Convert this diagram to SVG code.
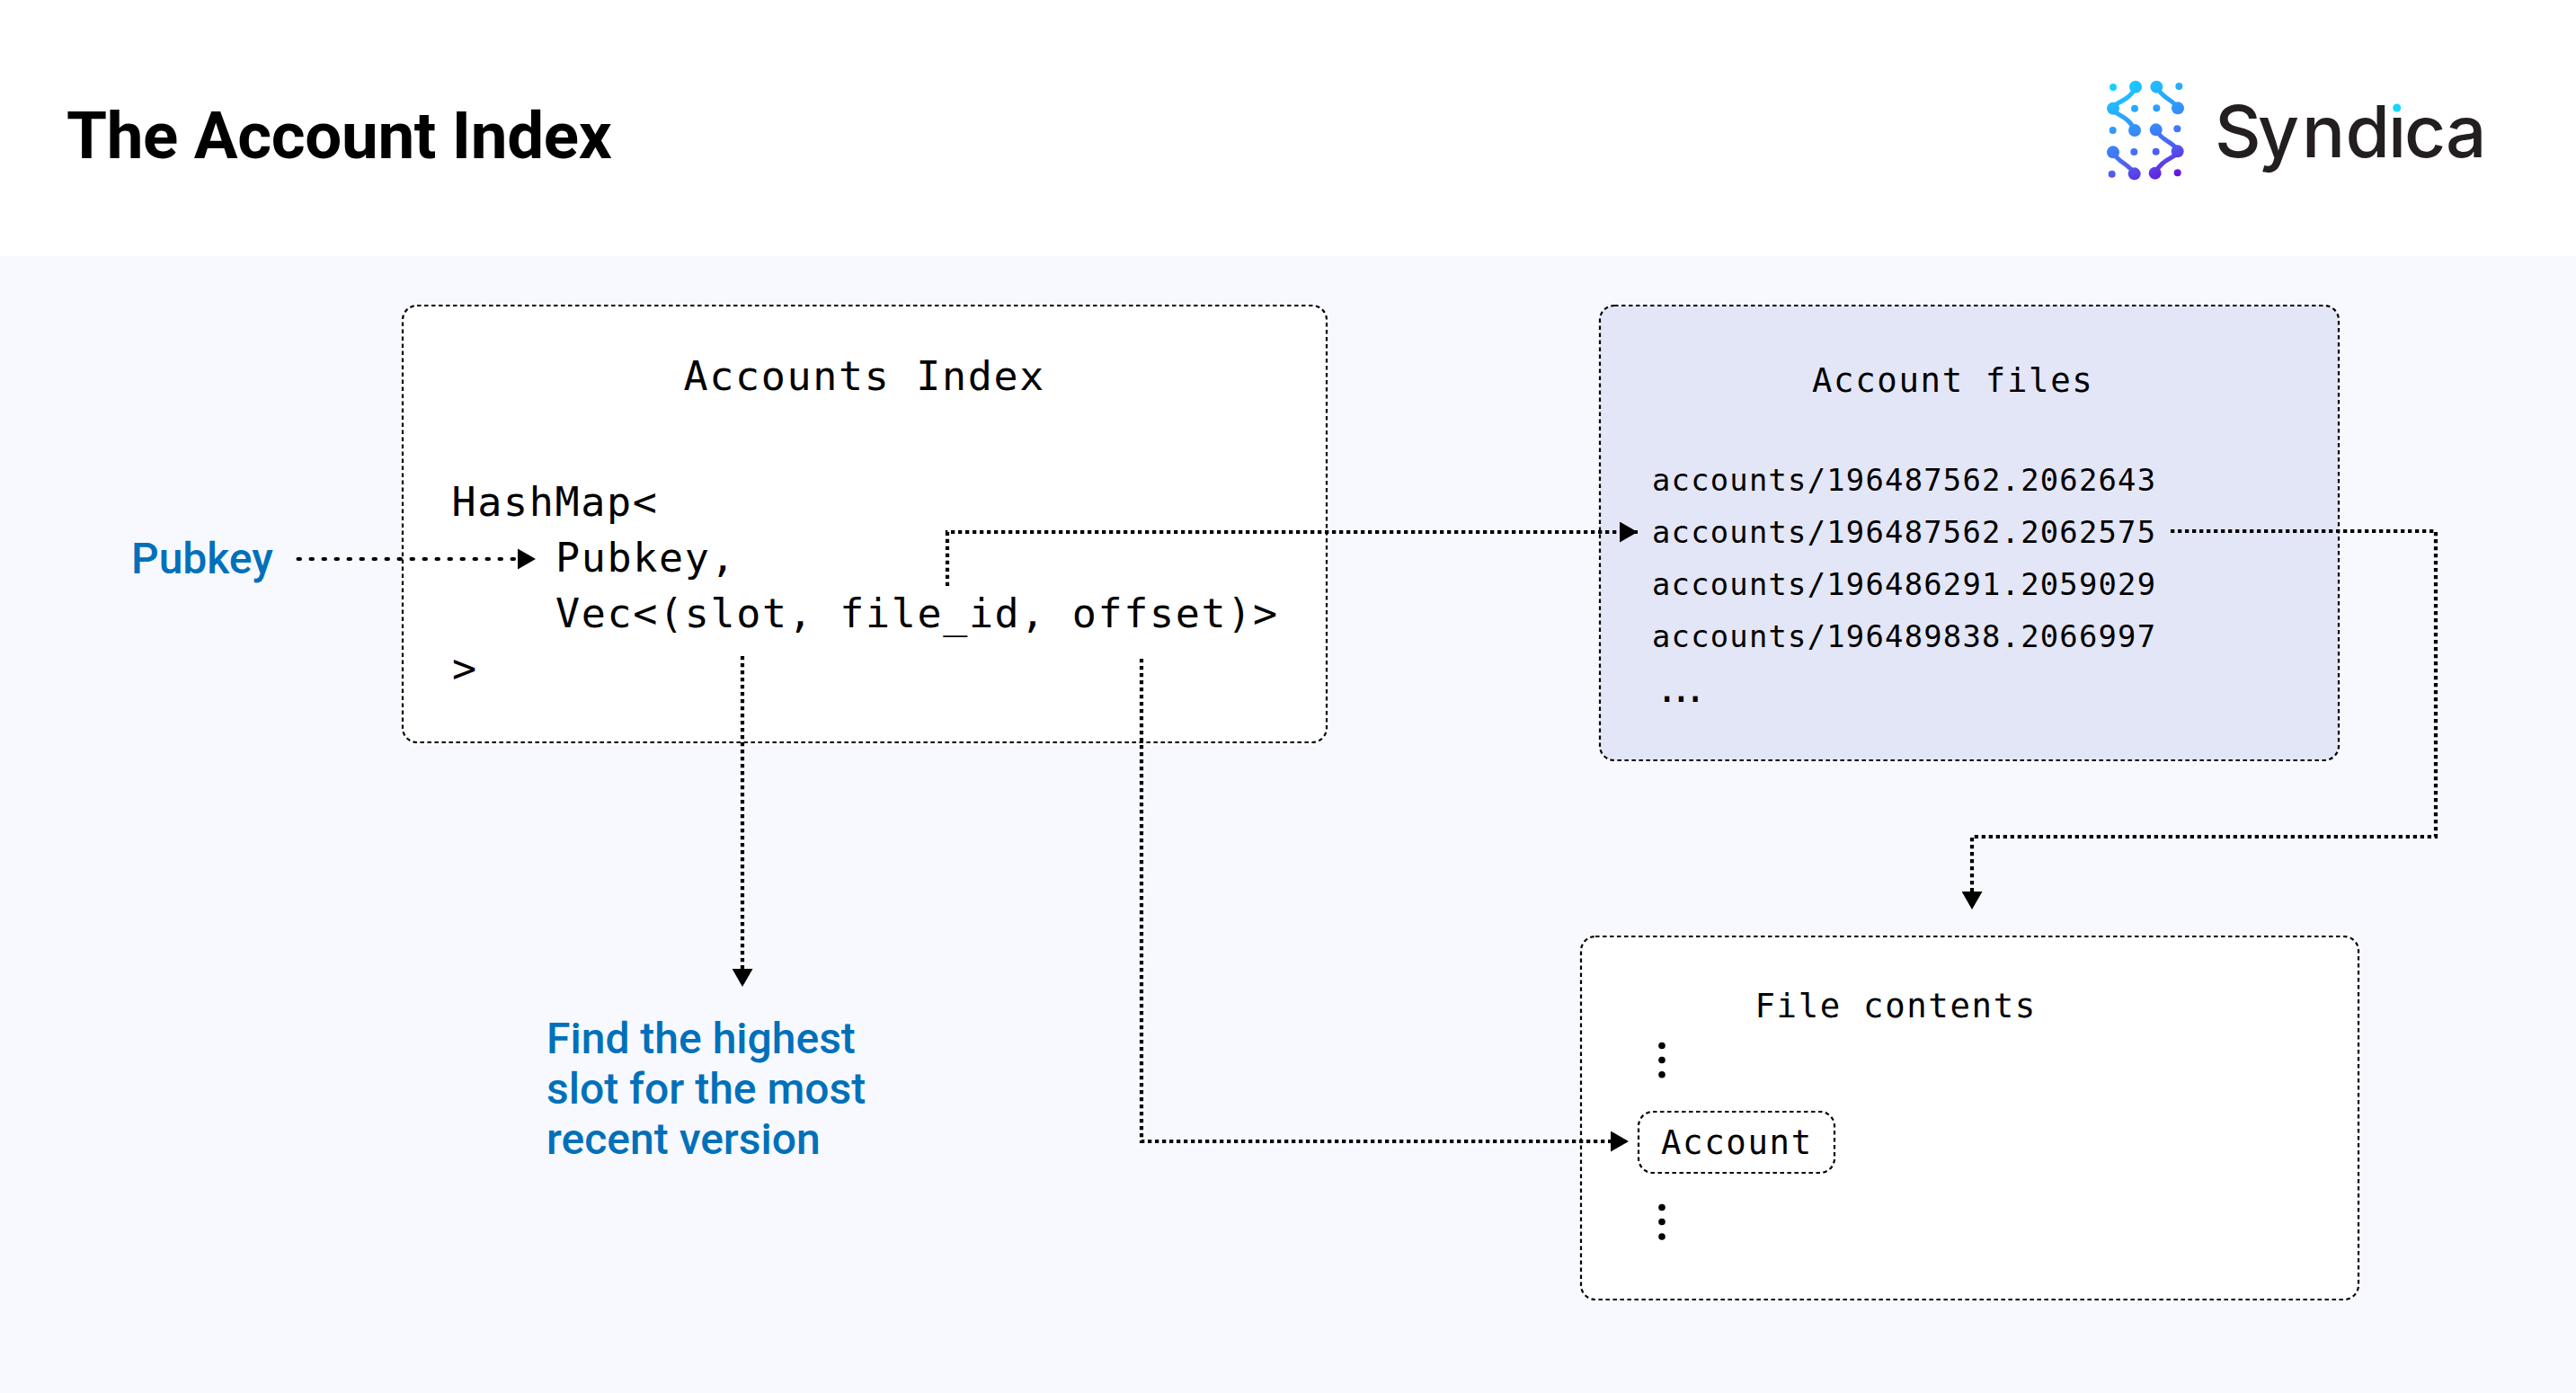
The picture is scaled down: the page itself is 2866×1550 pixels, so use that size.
<svg xmlns="http://www.w3.org/2000/svg" width="2866" height="1550" viewBox="0 0 2866 1550">
<style>
.box{stroke:#000;stroke-width:2.2;stroke-dasharray:4.5 3.5}
.m{font-family:"DejaVu Sans Mono","Liberation Mono",monospace;fill:#000}
.big{font-size:45px;letter-spacing:1.65px}
.mid{font-size:37.3px;letter-spacing:1.65px}
.sm{font-size:33.8px;letter-spacing:1.24px}
.blue{font-family:Roboto,"Liberation Sans",sans-serif;font-weight:500;font-size:48px;fill:#0070BA}
.c{fill:none;stroke:#000;stroke-width:4.2;stroke-dasharray:4.3 3.7}
.c1{fill:none;stroke:#000;stroke-width:4;stroke-dasharray:2.5 11.5;stroke-linecap:round}
.lg{fill:none;stroke:url(#g);stroke-width:15;stroke-linejoin:round;stroke-linecap:round}
</style>
<defs>
<marker id="a" markerUnits="userSpaceOnUse" markerWidth="20" markerHeight="23" refX="20" refY="11.500" orient="auto"><path d="M0 0L20 11.500L0 23Z" fill="#000"/></marker>
<linearGradient id="g" gradientUnits="userSpaceOnUse" x1="180" y1="80" x2="330" y2="420"><stop offset="0" stop-color="#14D6FD"/><stop offset=".45" stop-color="#3393FB"/><stop offset=".75" stop-color="#4F5EEF"/><stop offset="1" stop-color="#6A14DC"/></linearGradient>
</defs>
<rect width="2866" height="1550" fill="#F8F9FE"/>
<rect width="2866" height="285" fill="#fff"/>
<g id="title"><text x="74" y="176" font-family="Roboto,'Liberation Sans',sans-serif" font-weight="700" font-size="72.7" letter-spacing="-0.33" fill="#000">The Account Index</text></g>
<g id="logo">
<g transform="translate(2300 60) scale(.33333)" fill="url(#g)">
<path class="lg" d="M228 110C212 150 172 160 156 172M156 192C172 205 210 215 225 255"/>
<path class="lg" d="M298 110C318 150 350 150 370 181"/>
<path class="lg" d="M296 253C315 290 345 290 364 315M364 335C345 350 310 360 293 398"/>
<path class="lg" d="M152 328C172 365 205 365 224 400"/>
<circle cx="228" cy="110" r="21"/><circle cx="153" cy="182" r="21"/><circle cx="225" cy="255" r="21"/>
<circle cx="298" cy="110" r="21"/><circle cx="369" cy="181" r="21"/>
<circle cx="296" cy="253" r="21"/><circle cx="368" cy="325" r="21"/><circle cx="293" cy="398" r="21"/>
<circle cx="153" cy="328" r="21"/><circle cx="224" cy="400" r="21"/>
<circle cx="153" cy="111" r="12"/><circle cx="373" cy="108" r="12"/><circle cx="225" cy="182" r="12"/><circle cx="298" cy="181" r="12"/><circle cx="152" cy="255" r="12"/><circle cx="367" cy="250" r="12"/><circle cx="223" cy="327" r="12"/><circle cx="296" cy="326" r="12"/><circle cx="149" cy="401" r="12"/><circle cx="368" cy="397" r="12"/>
</g>
<text x="2464 2512 2561 2609.500 2657 2675 2721" y="175" font-family="Inter,'Noto Sans',sans-serif" font-size="80" font-weight="500" fill="#231F20">Syndica</text>
<rect x="2658" y="104" width="18" height="24.500" fill="#fff"/>
<circle cx="2666.700" cy="120" r="4.500" fill="#16D4FD"/>
</g>
<g id="accounts-index">
<rect class="box" x="448" y="340" width="1028" height="486" rx="16" fill="#fff"/>
<text class="m big" x="760.500" y="434">Accounts Index</text>
<text class="m big" x="502.500" y="574">HashMap&lt;</text>
<text class="m big" x="618" y="636">Pubkey,</text>
<text class="m big" x="618" y="697.500">Vec&lt;(slot, file_id, offset)&gt;</text>
<text class="m big" x="503" y="759">&gt;</text>
</g>
<g id="account-files">
<rect class="box" x="1780" y="340" width="822" height="506" rx="16" fill="#E3E6F6"/>
<text class="m mid" x="2016" y="436">Account files</text>
<text class="m sm" x="1838" y="546">accounts/196487562.2062643</text>
<text class="m sm" x="1838" y="604">accounts/196487562.2062575</text>
<text class="m sm" x="1838" y="662">accounts/196486291.2059029</text>
<text class="m sm" x="1838" y="720">accounts/196489838.2066997</text>
<text class="m" x="1842" y="781" font-size="42" style="letter-spacing:-9.500px">...</text>
</g>
<g id="file-contents">
<rect class="box" x="1759" y="1042" width="865" height="404" rx="16" fill="#fff"/>
<text class="m mid" x="1952.500" y="1132">File contents</text>
<g fill="#000"><circle cx="1849" cy="1163.500" r="3.800"/><circle cx="1849" cy="1179.500" r="3.800"/><circle cx="1849" cy="1195.700" r="3.800"/><circle cx="1849" cy="1343.500" r="3.800"/><circle cx="1849" cy="1359.500" r="3.800"/><circle cx="1849" cy="1376" r="3.800"/></g>
</g>
<g id="account">
<rect class="box" x="1823" y="1237" width="218" height="68" rx="16" fill="#fff"/>
<text class="m mid" x="1848" y="1284">Account</text>
</g>
<g id="pubkey"><text class="blue" x="146" y="638">Pubkey</text></g>
<g id="note"><text class="blue" x="608" y="1172">Find the highest</text><text class="blue" x="608" y="1228">slot for the most</text><text class="blue" x="608" y="1284">recent version</text></g>
<g id="connectors">
<path class="c1" d="M331.500 622H576"/><path d="M576 610.500L596 622L576 633.500Z" fill="#000"/>
<path class="c" d="M1054 652V592H1822" marker-end="url(#a)"/>
<path class="c" d="M2415 591H2710V931H2194V1012" marker-end="url(#a)"/>
<path class="c" d="M826 730V1098" marker-end="url(#a)"/>
<path class="c" d="M1270 733V1270H1812" marker-end="url(#a)"/>
</g>
</svg>
